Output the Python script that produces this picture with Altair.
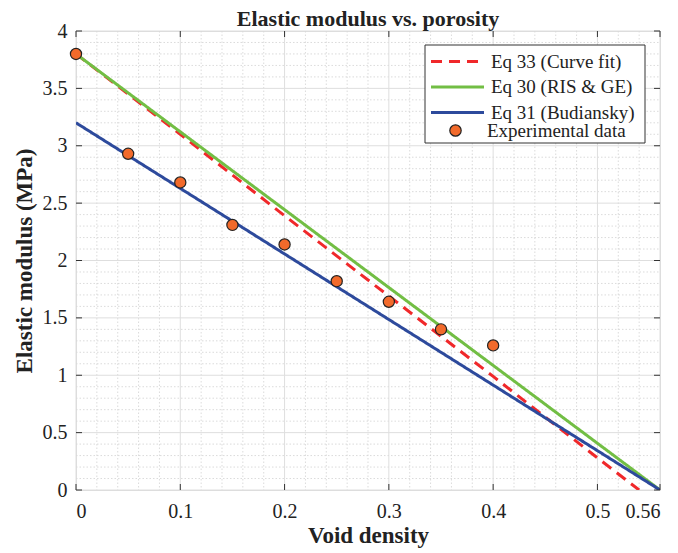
import altair as alt
import pandas as pd

# ---------------- data ----------------
exp_x = [0.00, 0.05, 0.10, 0.15, 0.20, 0.25, 0.30, 0.35, 0.40]
exp_y = [3.80, 2.93, 2.68, 2.31, 2.14, 1.82, 1.64, 1.40, 1.26]

eq33_x = [0.00, 0.10, 0.20, 0.30, 0.40, 0.50, 0.54]
eq33_y = [3.80, 3.10, 2.39, 1.69, 0.99, 0.28, 0.00]

eq30_x = [0.00, 0.56]
eq30_y = [3.80, 0.00]

eq31_x = [0.00, 0.56]
eq31_y = [3.20, 0.00]

line_names = ["Eq 33 (Curve fit)", "Eq 30 (RIS & GE)", "Eq 31 (Budiansky)"]
line_colors = ["#F0282A", "#72BE44", "#2D4A9C"]
point_name = "Experimental data"
point_color = "#F26A2B"

x_ticks = [0, 0.1, 0.2, 0.3, 0.4, 0.5, 0.56]
y_ticks = [0, 0.5, 1, 1.5, 2, 2.5, 3, 3.5, 4]
x_minor = [0.02, 0.04, 0.06, 0.08, 0.12, 0.14, 0.16, 0.18, 0.22, 0.24, 0.26, 0.28,
           0.32, 0.34, 0.36, 0.38, 0.42, 0.44, 0.46, 0.48, 0.52, 0.54]
y_minor = [0.1, 0.2, 0.3, 0.4, 0.6, 0.7, 0.8, 0.9, 1.1, 1.2, 1.3, 1.4, 1.6, 1.7, 1.8, 1.9,
           2.1, 2.2, 2.3, 2.4, 2.6, 2.7, 2.8, 2.9, 3.1, 3.2, 3.3, 3.4, 3.6, 3.7, 3.8, 3.9]

# ---------------- tables ----------------
lines_df = pd.concat([
    pd.DataFrame({"x": eq33_x, "y": eq33_y, "series": line_names[0]}),
    pd.DataFrame({"x": eq30_x, "y": eq30_y, "series": line_names[1]}),
    pd.DataFrame({"x": eq31_x, "y": eq31_y, "series": line_names[2]}),
])
pts_df = pd.DataFrame({"x": exp_x, "y": exp_y, "series": point_name})

W, H = 584, 459
FONT = "Liberation Serif"
TXT = "#222222"

xs = alt.Scale(domain=[0, 0.56], nice=False, zero=False)
ys = alt.Scale(domain=[0, 4], nice=False, zero=False)

line_legend = alt.Legend(
    title=None, orient="none", legendX=370, legendY=19,
    symbolType="M -2.65,0 L 2.65,0", symbolSize=400, symbolStrokeWidth=3,
    labelFont=FONT, labelFontSize=19, labelColor=TXT, labelOffset=22,
    padding=0, rowPadding=3.5,
)
point_legend = alt.Legend(
    title=None, orient="none", legendX=370, legendY=90,
    symbolType="circle", symbolSize=130, symbolStrokeWidth=1.2,
    symbolStrokeColor="#222222", symbolOpacity=1,
    labelFont=FONT, labelFontSize=19, labelColor=TXT, labelOffset=22,
    padding=0,
)

xaxis = alt.Axis(values=x_ticks, labelExpr="'' + datum.value", grid=False, ticks=False,
                 domain=False, title="Void density", labelFont=FONT, labelFontSize=20,
                 labelColor=TXT, labelPadding=11, titleFont=FONT, titleFontSize=23,
                 titleFontWeight="bold", titleColor=TXT, titlePadding=3)
yaxis = alt.Axis(values=y_ticks, labelExpr="'' + datum.value", grid=False, ticks=False,
                 domain=False, title="Elastic modulus (MPa)", labelFont=FONT, labelFontSize=20,
                 labelColor=TXT, labelPadding=9, titleFont=FONT, titleFontSize=23,
                 titleFontWeight="bold", titleColor=TXT, titlePadding=6)

# grid
xminor_df = pd.DataFrame({"v": x_minor})
yminor_df = pd.DataFrame({"v": y_minor})
xmajor_df = pd.DataFrame({"v": x_ticks})
ymajor_df = pd.DataFrame({"v": y_ticks})

minor_style = dict(color="#d2d2d2", strokeWidth=0.8, strokeDash=[1.5, 2])
gx_minor = alt.Chart(xminor_df).mark_rule(**minor_style).encode(
    x=alt.X("v:Q", scale=xs, axis=xaxis), y=alt.value(0), y2=alt.value(H))
gy_minor = alt.Chart(yminor_df).mark_rule(**minor_style).encode(
    y=alt.Y("v:Q", scale=ys, axis=yaxis), x=alt.value(0), x2=alt.value(W))
gx_major = alt.Chart(xmajor_df).mark_rule(color="#dedede", strokeWidth=1).encode(
    x=alt.X("v:Q", scale=xs), y=alt.value(0), y2=alt.value(H))
gy_major = alt.Chart(ymajor_df).mark_rule(color="#dedede", strokeWidth=1).encode(
    y=alt.Y("v:Q", scale=ys), x=alt.value(0), x2=alt.value(W))

# inward ticks
tk = dict(color="#333333", strokeWidth=1)
tx_b = alt.Chart(xmajor_df).mark_rule(**tk).encode(x=alt.X("v:Q", scale=xs), y=alt.value(H), y2=alt.value(H - 6))
tx_t = alt.Chart(xmajor_df).mark_rule(**tk).encode(x=alt.X("v:Q", scale=xs), y=alt.value(0), y2=alt.value(6))
ty_l = alt.Chart(ymajor_df).mark_rule(**tk).encode(y=alt.Y("v:Q", scale=ys), x=alt.value(0), x2=alt.value(6))
ty_r = alt.Chart(ymajor_df).mark_rule(**tk).encode(y=alt.Y("v:Q", scale=ys), x=alt.value(W), x2=alt.value(W - 6))

# legend frame
box = alt.Chart(pd.DataFrame({"a": [0]})).mark_rect(fill="white", stroke="#333333", strokeWidth=1).encode(
    x=alt.value(349), x2=alt.value(569), y=alt.value(14), y2=alt.value(112))

lines = alt.Chart(lines_df).mark_line(strokeWidth=3, clip=True).encode(
    x=alt.X("x:Q", scale=xs),
    y=alt.Y("y:Q", scale=ys),
    color=alt.Color("series:N", scale=alt.Scale(domain=line_names, range=line_colors), legend=line_legend),
    strokeDash=alt.StrokeDash("series:N",
                              scale=alt.Scale(domain=line_names, range=[[11, 7], [1, 0], [1, 0]]),
                              legend=line_legend),
    order=alt.Order("x:Q"),
)

points = alt.Chart(pts_df).mark_circle(size=125, opacity=1, stroke="#222222", strokeWidth=1.2).encode(
    x=alt.X("x:Q", scale=xs),
    y=alt.Y("y:Q", scale=ys),
    fill=alt.Fill("series:N", scale=alt.Scale(domain=[point_name], range=[point_color]), legend=point_legend),
)

chart = alt.layer(
    gx_minor, gy_minor, gx_major, gy_major, box, lines, points, tx_b, tx_t, ty_l, ty_r
).properties(
    width=W, height=H,
    title=alt.TitleParams("Elastic modulus vs. porosity", font=FONT, fontSize=22,
                          fontWeight="bold", color=TXT, anchor="middle", offset=-10,
                          frame="group"),
    autosize=alt.AutoSizeParams(type="none"),
    padding={"left": 68, "top": 23, "right": 10, "bottom": 62},
).configure_view(stroke="#333333", strokeWidth=1.3).configure(background="white")

chart.save("out.html", embed_options={"renderer": "svg", "actions": False})
